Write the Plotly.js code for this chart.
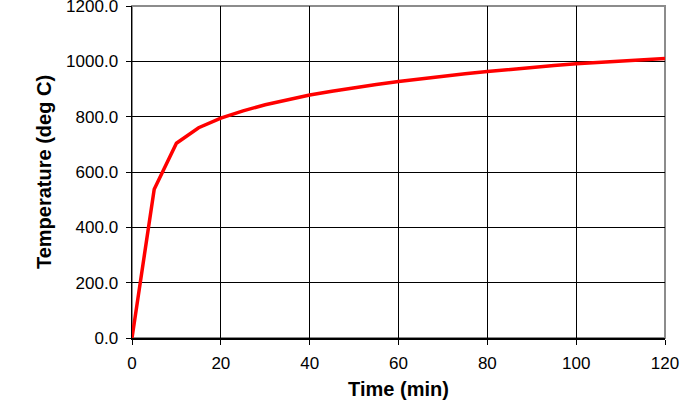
<!DOCTYPE html>
<html><head><meta charset="utf-8">
<script src="https://cdn.plot.ly/plotly-3.0.1.min.js"></script>
<style>body{margin:0;background:#fff}#c{width:698px;height:400px}</style>
</head><body><div id="c"></div>
<script>
const timeMin = [0,5,10,15,20,25,30,35,40,45,50,55,60,65,70,75,80,85,90,95,100,105,110,115,120];
const tempC = [0,538,704,760,795,821,843,862,878,892,905,916,927,937,946,955,963,971,978,985,991,996,1001,1006,1010];
const xTicks = [0,20,40,60,80,100,120];
const yTicks = [0,200,400,600,800,1000,1200];

const FONT = 'Liberation Sans, Arial, sans-serif';
Plotly.newPlot('c', [{
  x: timeMin, y: tempC, type: 'scatter', mode: 'lines',
  line: {color: '#ff0000', width: 3.5}, hoverinfo: 'skip'
}], {
  width: 698, height: 400,
  margin: {l: 132, r: 33, t: 6, b: 62},
  paper_bgcolor: '#fff', plot_bgcolor: '#fff',
  showlegend: false,
  font: {family: FONT, size: 17, color: '#000'},
  shapes: [{type: 'rect', xref: 'paper', yref: 'paper', x0: 0, x1: 1, y0: 0, y1: 1,
    line: {color: '#8c8c8c', width: 2}, layer: 'below'}],
  xaxis: {
    range: [0, 120], tickvals: xTicks, ticktext: xTicks.map(String),
    showgrid: true, gridcolor: '#000', gridwidth: 1,
    showline: true, linecolor: '#000', linewidth: 1.5,
    ticks: 'outside', ticklen: 5, tickcolor: '#000',
    ticklabelstandoff: 4, ticklabeloverflow: 'allow',
    zeroline: false, fixedrange: true,
    title: {text: 'Time (min)', font: {size: 20, family: FONT, weight: 'bold'}, standoff: 20}
  },
  yaxis: {
    range: [0, 1200], tickvals: yTicks, ticktext: yTicks.map(v => v.toFixed(1)),
    showgrid: true, gridcolor: '#000', gridwidth: 1,
    showline: true, linecolor: '#000', linewidth: 1.5,
    ticks: 'outside', ticklen: 5, tickcolor: '#000',
    ticklabelstandoff: 4, ticklabeloverflow: 'allow',
    zeroline: false, fixedrange: true,
    title: {text: 'Temperature (deg C)', font: {size: 20, family: FONT, weight: 'bold'}, standoff: 9}
  }
}, {displayModeBar: false, staticPlot: true});
</script></body></html>
